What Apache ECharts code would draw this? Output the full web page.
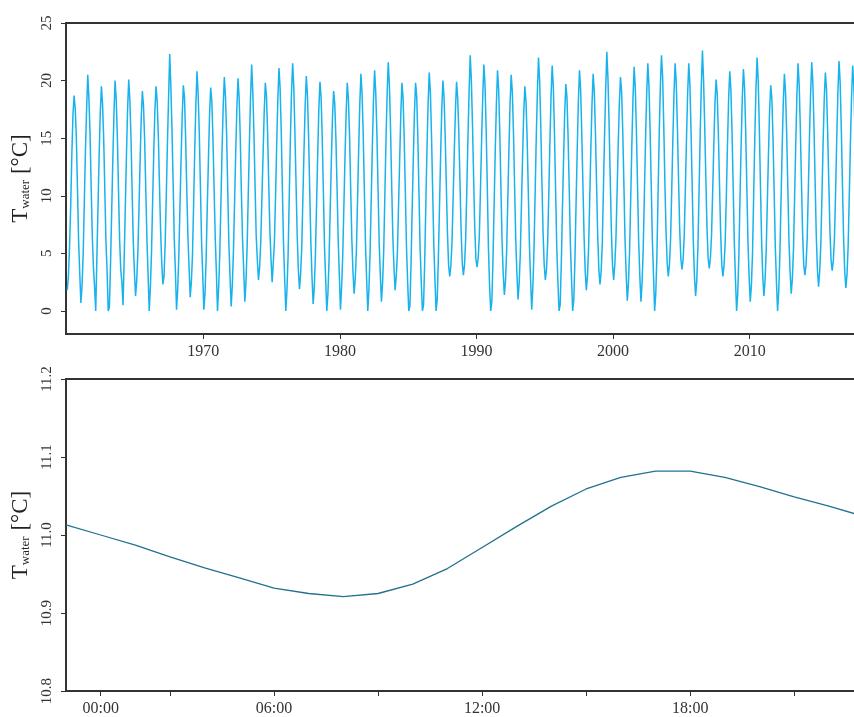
<!DOCTYPE html>
<html>
<head>
<meta charset="utf-8">
<title>Water temperature</title>
<script src="https://cdn.jsdelivr.net/npm/echarts@6/dist/echarts.min.js"></script>
<style>
html, body { margin: 0; padding: 0; background: #fff; }
#container { width: 854px; height: 717px; }
</style>
</head>
<body>
<div id="container"></div>
<script>
// top panel: monthly water temperature, one row per year (Jan..Dec)
var firstYear = 1960;
var waterTemp = [
    [1.8, 3.0, 5.5, 9.0, 13.5, 17.0, 18.7, 17.6, 15.0, 10.5, 6.0, 3.2],   // 1960
    [0.7, 2.2, 5.0, 9.5, 14.0, 17.5, 20.5, 18.5, 15.5, 10.8, 6.5, 3.8],
    [2.1, 0.0, 4.5, 9.0, 13.5, 17.2, 19.5, 18.0, 15.0, 10.5, 6.0, 3.5],
    [0.0, 0.3, 4.0, 8.5, 13.0, 17.0, 20.0, 18.4, 15.2, 10.6, 6.2, 3.6],
    [2.5, 0.5, 4.5, 9.0, 13.5, 17.5, 20.1, 18.3, 15.0, 10.4, 6.0, 3.4],
    [1.3, 2.6, 5.0, 8.8, 13.0, 16.8, 19.1, 17.8, 14.8, 10.5, 6.2, 3.2],
    [0.0, 2.0, 5.0, 9.5, 13.8, 17.4, 19.5, 18.2, 15.3, 11.0, 7.0, 4.2],
    [2.3, 3.0, 5.8, 10.0, 14.5, 18.5, 22.3, 19.5, 15.8, 11.2, 6.3, 3.5],
    [0.1, 1.8, 4.8, 9.0, 13.2, 17.0, 19.6, 18.5, 15.0, 10.5, 6.5, 3.8],
    [1.2, 2.5, 4.8, 9.2, 14.0, 18.0, 20.8, 18.8, 15.4, 10.8, 6.0, 3.2],
    [0.1, 1.5, 4.5, 9.0, 13.0, 17.0, 19.4, 18.2, 15.0, 10.6, 6.4, 3.4],   // 1970
    [0.0, 2.0, 5.0, 9.4, 14.0, 17.8, 20.3, 18.6, 15.3, 10.5, 5.8, 3.0],
    [0.4, 2.2, 5.2, 9.5, 13.8, 17.6, 20.2, 18.5, 15.0, 10.2, 6.2, 3.6],
    [0.8, 2.5, 5.5, 10.0, 14.5, 18.5, 21.4, 19.0, 15.5, 10.8, 6.5, 4.4],
    [2.7, 3.8, 6.0, 9.8, 13.5, 17.2, 19.8, 18.7, 15.5, 11.0, 7.0, 4.5],
    [2.5, 4.2, 6.0, 10.0, 14.5, 18.4, 21.1, 19.3, 15.6, 10.5, 5.8, 2.8],
    [0.0, 1.8, 4.8, 9.8, 14.8, 19.0, 21.5, 19.5, 15.5, 11.0, 6.6, 3.6],
    [1.9, 3.2, 5.5, 9.8, 14.0, 17.8, 20.4, 18.8, 15.2, 10.5, 6.0, 3.0],
    [0.6, 2.0, 4.8, 9.2, 13.5, 17.5, 19.9, 18.6, 15.0, 10.4, 5.6, 2.8],
    [0.0, 1.5, 4.5, 8.8, 13.0, 16.8, 19.1, 18.0, 15.0, 10.8, 6.2, 3.2],
    [0.1, 2.0, 4.8, 9.0, 13.4, 17.2, 19.8, 18.4, 15.2, 10.6, 6.2, 3.4],   // 1980
    [1.5, 2.8, 5.2, 9.6, 14.0, 18.0, 20.6, 18.8, 15.3, 10.5, 5.8, 2.8],
    [0.0, 1.8, 5.0, 9.5, 14.2, 18.2, 20.9, 19.0, 15.5, 10.8, 6.0, 3.2],
    [0.8, 2.4, 5.2, 10.0, 14.8, 18.8, 21.6, 19.6, 15.8, 11.0, 6.5, 3.8],
    [1.8, 3.0, 5.0, 9.0, 13.0, 17.0, 19.8, 18.5, 15.0, 10.4, 5.6, 2.6],
    [0.0, 0.4, 4.0, 8.8, 13.2, 17.2, 19.8, 18.6, 15.0, 10.2, 5.4, 2.5],
    [0.0, 0.5, 4.2, 9.2, 14.0, 18.0, 20.7, 19.0, 15.2, 10.5, 5.8, 2.8],
    [0.0, 1.0, 4.5, 9.0, 13.5, 17.5, 20.0, 18.6, 15.2, 11.0, 6.8, 4.0],
    [3.0, 3.9, 6.0, 9.8, 13.8, 17.4, 19.9, 18.5, 15.4, 11.2, 7.0, 4.2],
    [3.1, 4.0, 6.2, 10.5, 15.0, 19.0, 22.2, 20.0, 16.2, 11.5, 7.2, 4.5],
    [3.8, 4.6, 6.5, 10.5, 14.8, 18.6, 21.4, 19.6, 15.8, 10.8, 5.5, 2.2],  // 1990
    [0.0, 0.8, 4.5, 9.2, 14.0, 18.0, 20.9, 19.2, 15.4, 10.6, 6.0, 3.2],
    [1.4, 2.6, 5.2, 9.6, 14.0, 18.0, 20.5, 19.0, 15.5, 10.8, 6.2, 3.3],
    [1.0, 2.4, 5.0, 9.2, 13.4, 17.2, 19.5, 18.2, 15.0, 10.5, 5.8, 2.8],
    [0.1, 2.0, 5.2, 10.0, 15.0, 19.0, 22.0, 20.0, 16.0, 11.2, 6.8, 4.0],
    [2.7, 3.6, 5.8, 10.0, 14.6, 18.6, 21.3, 19.5, 15.5, 10.6, 5.6, 2.6],
    [0.0, 0.5, 4.0, 8.8, 13.2, 17.2, 19.7, 18.5, 15.0, 10.5, 5.8, 2.8],
    [0.0, 1.0, 4.5, 9.4, 14.0, 18.2, 20.9, 19.2, 15.4, 11.0, 6.5, 3.5],
    [1.8, 3.0, 5.5, 9.8, 14.2, 18.0, 20.6, 19.0, 15.5, 11.0, 6.5, 3.6],
    [2.3, 3.4, 5.8, 10.5, 15.2, 19.2, 22.5, 20.2, 16.2, 11.5, 7.0, 4.0],
    [2.7, 4.0, 6.2, 10.2, 14.4, 18.0, 20.3, 19.0, 15.6, 11.0, 6.2, 3.2],  // 2000
    [0.9, 2.4, 5.2, 9.8, 14.5, 18.5, 21.2, 19.4, 15.6, 10.8, 6.0, 3.0],
    [0.8, 2.5, 5.5, 10.2, 14.8, 18.8, 21.5, 19.6, 15.8, 11.0, 6.2, 3.2],
    [0.0, 1.5, 4.8, 10.0, 15.2, 19.4, 22.2, 20.4, 16.2, 11.2, 7.0, 4.2],
    [3.0, 4.0, 6.2, 10.4, 14.8, 18.8, 21.5, 19.8, 16.0, 11.5, 7.2, 4.6],
    [3.6, 4.4, 6.5, 10.6, 15.0, 18.9, 21.5, 19.6, 15.6, 10.8, 6.0, 3.0],
    [1.3, 2.6, 5.4, 10.2, 15.2, 19.5, 22.6, 20.0, 16.0, 11.5, 7.2, 4.6],
    [3.7, 4.6, 6.6, 10.4, 14.4, 18.0, 20.1, 18.8, 15.4, 11.0, 6.8, 4.0],
    [3.0, 4.0, 6.0, 10.0, 14.4, 18.4, 20.8, 19.2, 15.5, 10.8, 6.0, 2.8],
    [0.0, 1.5, 4.8, 9.8, 14.4, 18.5, 21.0, 19.4, 15.6, 10.8, 6.0, 3.0],
    [0.8, 2.2, 5.0, 10.0, 15.0, 19.2, 22.0, 20.0, 15.8, 10.8, 6.0, 3.0],  // 2010
    [1.3, 2.6, 5.2, 9.4, 13.6, 17.4, 19.6, 18.4, 15.0, 10.4, 5.6, 2.6],
    [0.0, 1.6, 4.8, 9.4, 14.0, 18.0, 20.6, 19.0, 15.4, 10.8, 6.2, 3.4],
    [1.5, 2.8, 5.4, 10.0, 14.6, 18.8, 21.5, 19.6, 15.8, 11.2, 6.8, 4.0],
    [3.1, 4.0, 6.2, 10.4, 15.0, 18.8, 21.6, 19.8, 16.0, 11.2, 6.6, 3.6],
    [2.1, 3.4, 5.8, 10.0, 14.6, 18.4, 20.7, 19.2, 15.6, 11.2, 7.0, 4.4],
    [3.5, 4.4, 6.4, 10.4, 15.0, 19.0, 21.7, 19.8, 15.8, 11.0, 6.4, 3.4],
    [2.0, 3.2, 5.6, 10.0, 14.6, 18.6, 21.3, 19.6, 15.8]                     // 2017
];
var yearTicks = [1970, 1980, 1990, 2000, 2010];
var tempTicks = [0, 5, 10, 15, 20, 25];

// bottom panel: hourly water temperature over one day
var hours = [0, 1, 2, 3, 4, 5, 6, 7, 8, 9, 10, 11, 12, 13, 14, 15, 16, 17, 18, 19, 20, 21, 22, 23];
var dayTemp = [11.013, 11.000, 10.987, 10.972, 10.958, 10.945, 10.932, 10.925, 10.921, 10.925, 10.937, 10.957,
    10.984, 11.011, 11.037, 11.059, 11.074, 11.082, 11.082, 11.074, 11.062, 11.049, 11.037, 11.024];
var hourTicks = [1, 3, 6, 9, 12, 15, 18, 21];
var hourLabelTicks = [1, 6, 12, 18];
var hourLabels = ["00:00", "06:00", "12:00", "18:00"];
var dayTicks = [10.8, 10.9, 11.0, 11.1, 11.2];

var serif = "Liberation Serif";
var axisColor = "#333";

var longSeries = [];
for (var i = 0; i < waterTemp.length; i++) {
    for (var m = 0; m < waterTemp[i].length; m++) {
        longSeries.push([firstYear + i + (m + 0.5) / 12, waterTemp[i][m]]);
    }
}
var daySeries = [];
for (var h = 0; h < hours.length; h++) {
    daySeries.push([hours[h], dayTemp[h]]);
}

function yTitle() {
    return {
        name: "{t|T}{s|water}{t| [°C]}",
        nameLocation: "middle",
        nameGap: 27,
        nameRotate: 90,
        nameTextStyle: {
            rich: {
                t: { fontFamily: serif, fontSize: 23, color: "#222", verticalAlign: "bottom", lineHeight: 26 },
                s: { fontFamily: serif, fontSize: 13, color: "#222", verticalAlign: "bottom", lineHeight: 24 }
            }
        }
    };
}

function xAxisOpt(gridIndex, min, max, ticks, labelTicks, fmt) {
    return {
        type: "value", gridIndex: gridIndex, min: min, max: max,
        splitLine: { show: false },
        axisLine: { show: true, onZero: false, lineStyle: { color: axisColor, width: 1.8 } },
        axisTick: { show: true, length: 5, customValues: ticks, lineStyle: { color: axisColor } },
        axisLabel: {
            customValues: labelTicks, margin: 10, color: "#333",
            fontFamily: serif, fontSize: 16, formatter: fmt
        }
    };
}

function yAxisOpt(gridIndex, min, max, ticks, fmt) {
    var o = {
        type: "value", gridIndex: gridIndex, min: min, max: max,
        splitLine: { show: false },
        axisLine: { show: true, onZero: false, lineStyle: { color: axisColor, width: 1.8 } },
        axisTick: { show: true, length: 5, customValues: ticks, lineStyle: { color: axisColor } },
        axisLabel: {
            customValues: ticks, rotate: 90, margin: 11, color: "#333",
            fontFamily: serif, fontSize: 15, formatter: fmt
        }
    };
    var t = yTitle();
    for (var k in t) o[k] = t[k];
    return o;
}

var chart = echarts.init(document.getElementById("container"), null, { renderer: "canvas" });
chart.setOption({
    animation: false,
    backgroundColor: "#fff",
    grid: [
        { left: 66, top: 23, right: -4, height: 311, outerBoundsMode: "none", containLabel: false,
          show: true, borderColor: axisColor, borderWidth: 1.8, backgroundColor: "transparent" },
        { left: 66, top: 379, right: -4, height: 312, outerBoundsMode: "none", containLabel: false,
          show: true, borderColor: axisColor, borderWidth: 1.8, backgroundColor: "transparent" }
    ],
    xAxis: [
        xAxisOpt(0, 1959.95, 2017.93, yearTicks, yearTicks, function (v) { return String(Math.round(v)); }),
        xAxisOpt(1, 0, 22.84, hourTicks, hourLabelTicks, function (v) {
            var idx = hourLabelTicks.indexOf(Math.round(v));
            return idx >= 0 ? hourLabels[idx] : "";
        })
    ],
    yAxis: [
        yAxisOpt(0, -2, 25, tempTicks, function (v) { return String(v); }),
        yAxisOpt(1, 10.8, 11.2, dayTicks, function (v) { return v.toFixed(1); })
    ],
    series: [
        {
            type: "line", xAxisIndex: 0, yAxisIndex: 0, data: longSeries,
            showSymbol: false, symbol: "none",
            lineStyle: { color: "#18b2ec", width: 1.5 }
        },
        {
            type: "line", xAxisIndex: 1, yAxisIndex: 1, data: daySeries,
            showSymbol: false, symbol: "none",
            lineStyle: { color: "#22718f", width: 1.3 }
        }
    ]
});
</script>
</body>
</html>
